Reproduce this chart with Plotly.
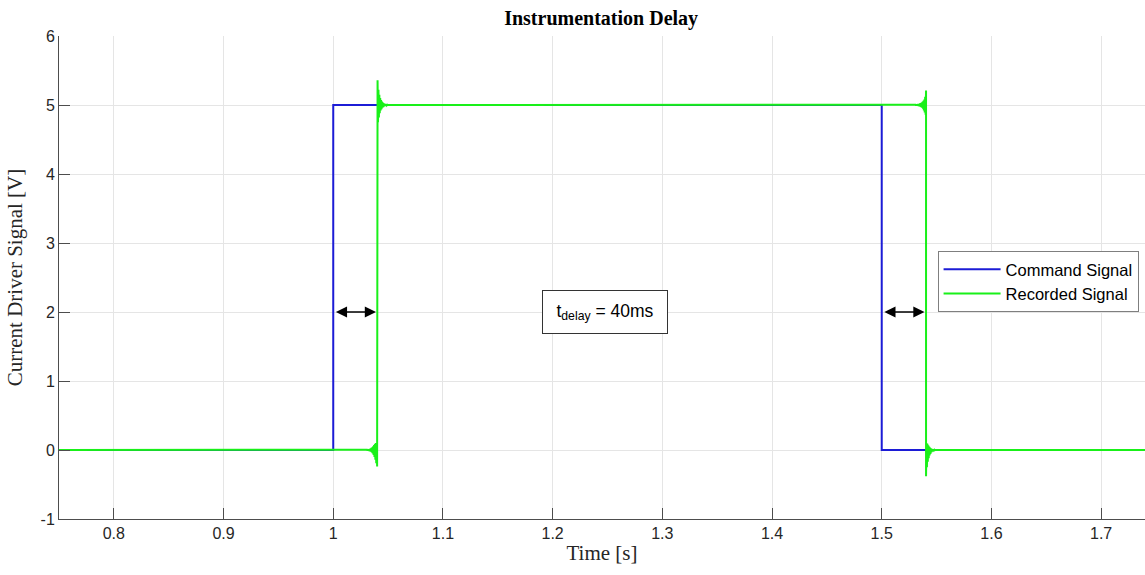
import numpy as np
import plotly.graph_objects as go

# ---- data ----
x_range = [0.75, 1.74]
y_range = [-1, 6]
x_ticks = [0.8, 0.9, 1.0, 1.1, 1.2, 1.3, 1.4, 1.5, 1.6, 1.7]
x_tick_labels = ["0.8", "0.9", "1", "1.1", "1.2", "1.3", "1.4", "1.5", "1.6", "1.7"]
y_ticks = [-1, 0, 1, 2, 3, 4, 5, 6]
y_tick_labels = ["-1", "0", "1", "2", "3", "4", "5", "6"]

# command signal (ideal step)
cmd_t = [0.70, 1.000, 1.000, 1.500, 1.500, 1.80]
cmd_v = [0.0, 0.0, 5.0, 5.0, 0.0, 0.0]

dt = 0.0004
rise_pre_t0 = 1.030
rise_pre = [0.003, -0.004, 0.005, -0.006, 0.008, -0.009, 0.011, -0.013, 0.015, -0.018,
            0.021, -0.025, 0.03, -0.036, 0.04, -0.05, 0.055, -0.07, 0.07, -0.1, 0.085,
            -0.14, 0.1, -0.19, 0.1, -0.24]
rise_post_t0 = 1.0404
rise_post = [5.36, 4.75, 5.22, 4.82, 5.15, 4.88, 5.10, 4.92, 5.07, 4.94, 5.05, 4.96,
             5.035, 4.97, 5.025, 4.98, 5.018, 4.985, 5.012, 4.99, 5.008, 4.995, 5.004, 5.0]
fall_pre_t0 = 1.530
fall_pre = [5.003, 4.997, 5.005, 4.994, 5.007, 4.992, 5.010, 4.990, 5.013, 4.986, 5.017,
            4.982, 5.022, 4.977, 5.028, 4.970, 5.036, 4.960, 5.046, 4.945, 5.06, 4.92,
            5.08, 4.89, 5.12, 4.86, 5.21]
fall_post_t0 = 1.5404
fall_post = [-0.38, 0.10, -0.25, 0.09, -0.17, 0.07, -0.12, 0.05, -0.08, 0.035, -0.055,
             0.025, -0.035, 0.015, -0.022, 0.01, -0.012, 0.006, -0.006, 0.003, -0.002, 0.0]


def seg_times(t0, vals):
    return [t0 + i * dt for i in range(len(vals))]


rec_t = ([0.70] + seg_times(rise_pre_t0, rise_pre) + seg_times(rise_post_t0, rise_post)
         + seg_times(fall_pre_t0, fall_pre) + seg_times(fall_post_t0, fall_post) + [1.80])
rec_v = [0.0] + rise_pre + rise_post + fall_pre + fall_post + [0.0]

# delay arrows
delay_arrows = [(1.000, 1.040, 2.0), (1.500, 1.540, 2.0)]
delay_text = "t<sub>delay</sub> = 40ms"
delay_text_pos = (1.2478, 2.0)

fig = go.Figure()
fig.add_trace(go.Scatter(x=cmd_t, y=cmd_v, mode="lines", name="Command Signal",
                         line=dict(color="#1c1cd6", width=2)))
fig.add_trace(go.Scatter(x=rec_t, y=rec_v, mode="lines", name="Recorded Signal",
                         line=dict(color="#19f019", width=2)))

for x0, x1, yv in delay_arrows:
    fig.add_annotation(x=x1 - 0.001, y=yv, ax=x0 + 0.001, ay=yv, xref="x", yref="y",
                       axref="x", ayref="y", text="", showarrow=True,
                       arrowhead=2, startarrowhead=2, arrowside="end+start",
                       arrowsize=1.4, startarrowsize=1.4, arrowwidth=1.6, arrowcolor="black")

fig.add_annotation(x=delay_text_pos[0], y=delay_text_pos[1], xref="x", yref="y",
                   text=delay_text, showarrow=False,
                   font=dict(family="Liberation Sans", size=17.5, color="black"),
                   width=110, height=28, align="center",
                   bordercolor="#333333", borderwidth=1, borderpad=7, bgcolor="white")

axis_common = dict(showline=True, linecolor="#4d4d4d", linewidth=1, ticks="inside",
                   ticklen=11, tickcolor="#4d4d4d", showgrid=True, gridcolor="#e5e5e5",
                   gridwidth=1, zeroline=False,
                   tickfont=dict(family="Liberation Sans", size=16, color="#262626"))

fig.update_xaxes(range=x_range, tickvals=x_ticks, ticktext=x_tick_labels,
                 title=dict(text="Time [s]", standoff=4,
                            font=dict(family="Liberation Serif", size=21, color="#262626")),
                 **axis_common)
fig.update_yaxes(range=y_range, tickvals=y_ticks, ticktext=y_tick_labels,
                 title=dict(text="Current Driver Signal [V]", standoff=12,
                            font=dict(family="Liberation Serif", size=21, color="#262626")),
                 **axis_common)

fig.update_layout(
    width=1145, height=575,
    margin=dict(l=59, r=0, t=36, b=56),
    plot_bgcolor="white", paper_bgcolor="white",
    title=dict(text="<b>Instrumentation Delay</b>", x=0.525, xanchor="center",
               y=1 - 18 / 575, yanchor="middle",
               font=dict(family="Liberation Serif", size=20, color="black")),
    legend=dict(x=0.809, y=0.555, xanchor="left", yanchor="top",
                bordercolor="#7f7f7f", borderwidth=1, bgcolor="white",
                font=dict(family="Liberation Sans", size=16.5, color="black"),
                tracegroupgap=0, itemwidth=57),
    showlegend=True,
)

fig.write_html("out.html")
